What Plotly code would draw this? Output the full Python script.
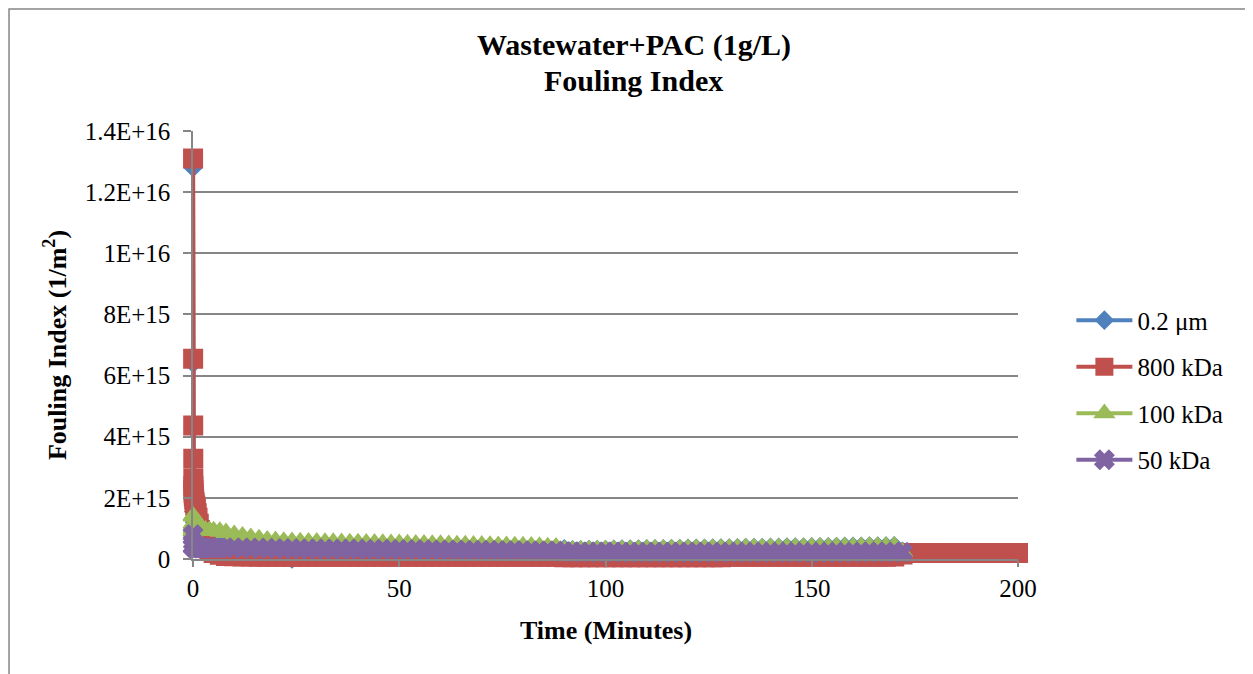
import plotly.graph_objects as go

# time axis (minutes)
T_EARLY = [0.017, 0.033, 0.05, 0.067, 0.083, 0.1, 0.12, 0.15, 0.2, 0.3, 0.4, 0.55,
           0.7, 0.9, 1.1, 1.4, 1.7, 2.0, 2.5, 3.0, 4.0, 5.0, 6.5, 8.0]
T_MAIN = [10, 12, 14, 16, 18, 20, 22, 24, 26, 28,
          30, 32, 34, 36, 38, 40, 42, 44, 46, 48,
          50, 52, 54, 56, 58, 60, 62, 64, 66, 68,
          70, 72, 74, 76, 78, 80, 82, 84, 86, 88,
          90, 92, 94, 96, 98, 100, 102, 104, 106, 108,
          110, 112, 114, 116, 118, 120, 122, 124, 126, 128,
          130, 132, 134, 136, 138, 140, 142, 144, 146, 148,
          150, 152, 154, 156, 158, 160, 162, 164, 166, 168,
          170, 172]
T_RED_TAIL = [174, 176, 178, 180, 182, 184, 186, 188, 190, 192, 194, 196, 198, 200]

# fouling index (1/m2)
BLUE_EARLY = [1.28e16, 6.4e15, 4.27e15, 3.2e15, 2.56e15, 2.2e15, 1.95e15, 1.75e15, 1.55e15,
              1.35e15, 1.2e15, 1.05e15, 0.95e15, 0.85e15, 0.78e15, 0.7e15, 0.64e15, 0.6e15,
              0.55e15, 0.52e15, 0.5e15, 0.48e15, 0.46e15, 0.45e15]
BLUE_MAIN = [0.42e15, 0.42e15, 0.41e15, 0.41e15, 0.40e15, 0.40e15, 0.30e15, 0.0, 0.30e15, 0.38e15,
             0.38e15, 0.38e15, 0.37e15, 0.37e15, 0.37e15, 0.36e15, 0.36e15, 0.36e15, 0.36e15, 0.35e15,
             0.35e15, 0.35e15, 0.35e15, 0.35e15, 0.34e15, 0.34e15, 0.34e15, 0.34e15, 0.34e15, 0.34e15,
             0.33e15, 0.33e15, 0.20e15, -0.02e15, 0.20e15, 0.33e15, 0.33e15, 0.33e15, 0.34e15, 0.35e15,
             0.33e15, 0.30e15, 0.30e15, 0.305e15, 0.31e15, 0.31e15, 0.315e15, 0.32e15, 0.32e15, 0.325e15,
             0.33e15, 0.33e15, 0.335e15, 0.34e15, 0.34e15, 0.345e15, 0.35e15, 0.35e15, 0.355e15, 0.36e15,
             0.36e15, 0.365e15, 0.37e15, 0.37e15, 0.375e15, 0.38e15, 0.38e15, 0.385e15, 0.39e15, 0.39e15,
             0.395e15, 0.40e15, 0.40e15, 0.405e15, 0.41e15, 0.41e15, 0.415e15, 0.42e15, 0.42e15, 0.425e15,
             0.43e15, 0.25e15]

RED_EARLY = [1.31e16, 6.55e15, 4.37e15, 3.28e15, 2.62e15, 2.4e15, 2.25e15, 2.15e15, 2.05e15,
             1.95e15, 1.85e15, 1.75e15, 1.65e15, 1.5e15, 1.35e15, 1.15e15, 0.95e15, 0.8e15,
             0.6e15, 0.45e15, 0.3e15, 0.2e15, 0.14e15, 0.1e15]
RED_MAIN = [0.09e15, 0.08e15, 0.08e15, 0.07e15, 0.07e15, 0.07e15, 0.07e15, 0.07e15, 0.07e15, 0.07e15,
            0.07e15, 0.07e15, 0.07e15, 0.07e15, 0.07e15, 0.07e15, 0.07e15, 0.07e15, 0.07e15, 0.07e15,
            0.07e15, 0.07e15, 0.07e15, 0.07e15, 0.07e15, 0.07e15, 0.07e15, 0.07e15, 0.07e15, 0.07e15,
            0.07e15, 0.07e15, 0.07e15, 0.07e15, 0.07e15, 0.07e15, 0.07e15, 0.07e15, 0.07e15, 0.07e15,
            0.06e15, 0.06e15, 0.06e15, 0.06e15, 0.06e15, 0.06e15, 0.06e15, 0.06e15, 0.06e15, 0.06e15,
            0.06e15, 0.06e15, 0.06e15, 0.06e15, 0.06e15, 0.06e15, 0.06e15, 0.06e15, 0.06e15, 0.06e15,
            0.07e15, 0.07e15, 0.07e15, 0.07e15, 0.07e15, 0.07e15, 0.07e15, 0.07e15, 0.07e15, 0.07e15,
            0.07e15, 0.07e15, 0.07e15, 0.07e15, 0.07e15, 0.07e15, 0.07e15, 0.07e15, 0.07e15, 0.07e15,
            0.08e15, 0.15e15]
RED_TAIL = [0.2e15, 0.2e15, 0.2e15, 0.2e15, 0.2e15, 0.2e15, 0.2e15,
            0.2e15, 0.2e15, 0.2e15, 0.2e15, 0.2e15, 0.2e15, 0.2e15]

GREEN_EARLY = [0.9e15, 1.4e15, 1.15e15, 1.05e15, 1.0e15, 1.0e15, 1.0e15, 1.0e15, 1.0e15,
               1.0e15, 1.0e15, 1.0e15, 0.99e15, 0.99e15, 0.98e15, 0.98e15, 0.97e15, 0.96e15,
               0.95e15, 0.94e15, 0.93e15, 0.92e15, 0.9e15, 0.86e15]
GREEN_MAIN = [0.80e15, 0.75e15, 0.70e15, 0.66e15, 0.62e15, 0.60e15, 0.58e15, 0.57e15, 0.56e15, 0.555e15,
              0.55e15, 0.545e15, 0.54e15, 0.535e15, 0.53e15, 0.525e15, 0.52e15, 0.515e15, 0.51e15, 0.505e15,
              0.50e15, 0.495e15, 0.49e15, 0.485e15, 0.48e15, 0.475e15, 0.47e15, 0.465e15, 0.46e15, 0.455e15,
              0.45e15, 0.445e15, 0.44e15, 0.435e15, 0.43e15, 0.425e15, 0.42e15, 0.41e15, 0.40e15, 0.39e15,
              0.29e15, 0.29e15, 0.29e15, 0.295e15, 0.30e15, 0.30e15, 0.305e15, 0.31e15, 0.31e15, 0.315e15,
              0.32e15, 0.32e15, 0.325e15, 0.33e15, 0.33e15, 0.335e15, 0.34e15, 0.34e15, 0.345e15, 0.35e15,
              0.35e15, 0.355e15, 0.36e15, 0.36e15, 0.365e15, 0.37e15, 0.37e15, 0.375e15, 0.38e15, 0.38e15,
              0.385e15, 0.39e15, 0.39e15, 0.395e15, 0.40e15, 0.40e15, 0.405e15, 0.41e15, 0.41e15, 0.415e15,
              0.42e15, 0.22e15]

PURPLE_EARLY = [0.8e15, 0.4e15, 0.55e15, 0.42e15, 0.4e15, 0.4e15, 0.39e15, 0.39e15, 0.38e15,
                0.38e15, 0.38e15, 0.37e15, 0.37e15, 0.37e15, 0.37e15, 0.37e15, 0.36e15, 0.36e15,
                0.36e15, 0.36e15, 0.36e15, 0.36e15, 0.36e15, 0.36e15]
PURPLE_MAIN = [0.36e15, 0.36e15, 0.35e15, 0.35e15, 0.35e15, 0.34e15, 0.34e15, 0.34e15, 0.33e15, 0.33e15,
               0.33e15, 0.33e15, 0.32e15, 0.32e15, 0.32e15, 0.32e15, 0.31e15, 0.31e15, 0.31e15, 0.31e15,
               0.30e15, 0.30e15, 0.30e15, 0.30e15, 0.29e15, 0.29e15, 0.29e15, 0.29e15, 0.28e15, 0.28e15,
               0.28e15, 0.28e15, 0.27e15, 0.27e15, 0.27e15, 0.27e15, 0.26e15, 0.26e15, 0.26e15, 0.26e15,
               0.24e15, 0.24e15, 0.23e15, 0.23e15, 0.23e15, 0.23e15, 0.23e15, 0.22e15, 0.22e15, 0.22e15,
               0.22e15, 0.22e15, 0.22e15, 0.22e15, 0.22e15, 0.22e15, 0.22e15, 0.22e15, 0.22e15, 0.22e15,
               0.22e15, 0.22e15, 0.22e15, 0.22e15, 0.22e15, 0.22e15, 0.22e15, 0.22e15, 0.22e15, 0.22e15,
               0.22e15, 0.22e15, 0.22e15, 0.22e15, 0.22e15, 0.22e15, 0.23e15, 0.23e15, 0.23e15, 0.23e15,
               0.23e15, 0.22e15]

Y_TICKS = [0, 2e15, 4e15, 6e15, 8e15, 1e16, 1.2e16, 1.4e16]
Y_TICK_TEXT = ["0", "2E+15", "4E+15", "6E+15", "8E+15", "1E+16", "1.2E+16", "1.4E+16"]
X_TICKS = [0, 50, 100, 150, 200]

FONT = "Liberation Serif"
GRID = "#868686"

series = [
    ("0.2 μm", T_EARLY + T_MAIN, BLUE_EARLY + BLUE_MAIN, "#4F81BD", "diamond", 13),
    ("800 kDa", T_EARLY + T_MAIN + T_RED_TAIL, RED_EARLY + RED_MAIN + RED_TAIL, "#C0504D", "square", 18),
    ("100 kDa", T_EARLY + T_MAIN, GREEN_EARLY + GREEN_MAIN, "#9BBB59", "triangle-up", 17),
    ("50 kDa", T_EARLY + T_MAIN, PURPLE_EARLY + PURPLE_MAIN, "#8064A2", "x", 16),
]

fig = go.Figure()
for name, xs, ys, color, symbol, size in series:
    fig.add_trace(go.Scatter(
        x=xs, y=ys, name=name, mode="lines+markers", legendgroup=name,
        line=dict(color=color, width=4),
        marker=dict(symbol=symbol, size=size, color=color,
                    line=dict(color=color, width=2)),
        cliponaxis=False,
    ))

# page has an 8px body margin, so the figure is 8px smaller than the window
fig.update_layout(
    width=1245, height=666,
    margin=dict(l=185, r=235, t=123, b=115),
    paper_bgcolor="white", plot_bgcolor="white",
    font=dict(family=FONT, size=25, color="black"),
    showlegend=True,
    legend=dict(x=1.0647, y=0.395, xanchor="left", yanchor="middle",
                font=dict(family=FONT, size=25), tracegroupgap=11, itemwidth=56,
                bgcolor="rgba(0,0,0,0)"),
    xaxis=dict(range=[0, 200], tickvals=X_TICKS, showgrid=False, zeroline=False,
               showline=True, linecolor=GRID, linewidth=1.5,
               ticks="outside", ticklen=6, tickcolor=GRID, tickwidth=1.5,
               tickfont=dict(size=25)),
    yaxis=dict(range=[0, 1.4e16], tickvals=Y_TICKS, ticktext=Y_TICK_TEXT,
               showgrid=True, gridcolor=GRID, gridwidth=1.5, zeroline=False,
               showline=True, linecolor=GRID, linewidth=1.5,
               ticks="outside", ticklen=8, tickcolor=GRID, tickwidth=1.5,
               ticklabelstandoff=8, tickfont=dict(size=25)),
)

# chart title (two lines), axis titles as annotations
fig.add_annotation(text="<b>Wastewater+PAC (1g/L)</b>", xref="paper", yref="paper",
                   x=0.5345, y=1.2005, showarrow=False, xanchor="center", yanchor="middle",
                   font=dict(size=30))
fig.add_annotation(text="<b>Fouling Index</b>", xref="paper", yref="paper",
                   x=0.5345, y=1.117, showarrow=False, xanchor="center", yanchor="middle",
                   font=dict(size=30))
fig.add_annotation(text="<b>Time (Minutes)</b>", xref="paper", yref="paper",
                   x=0.5, y=-0.168, showarrow=False, xanchor="center", yanchor="middle",
                   font=dict(size=26))
fig.add_annotation(text="<b>Fouling Index (1/m<sup>2</sup>)</b>", xref="paper", yref="paper",
                   x=-0.1672, y=0.5, showarrow=False, xanchor="center", yanchor="middle",
                   textangle=-90, font=dict(size=26))

# outer chart border
fig.add_shape(type="rect", xref="paper", yref="paper",
              x0=-0.2230, x1=1.3, y0=-0.35, y1=1.285,
              line=dict(color=GRID, width=1.5), layer="below")

fig.write_html("out.html")
